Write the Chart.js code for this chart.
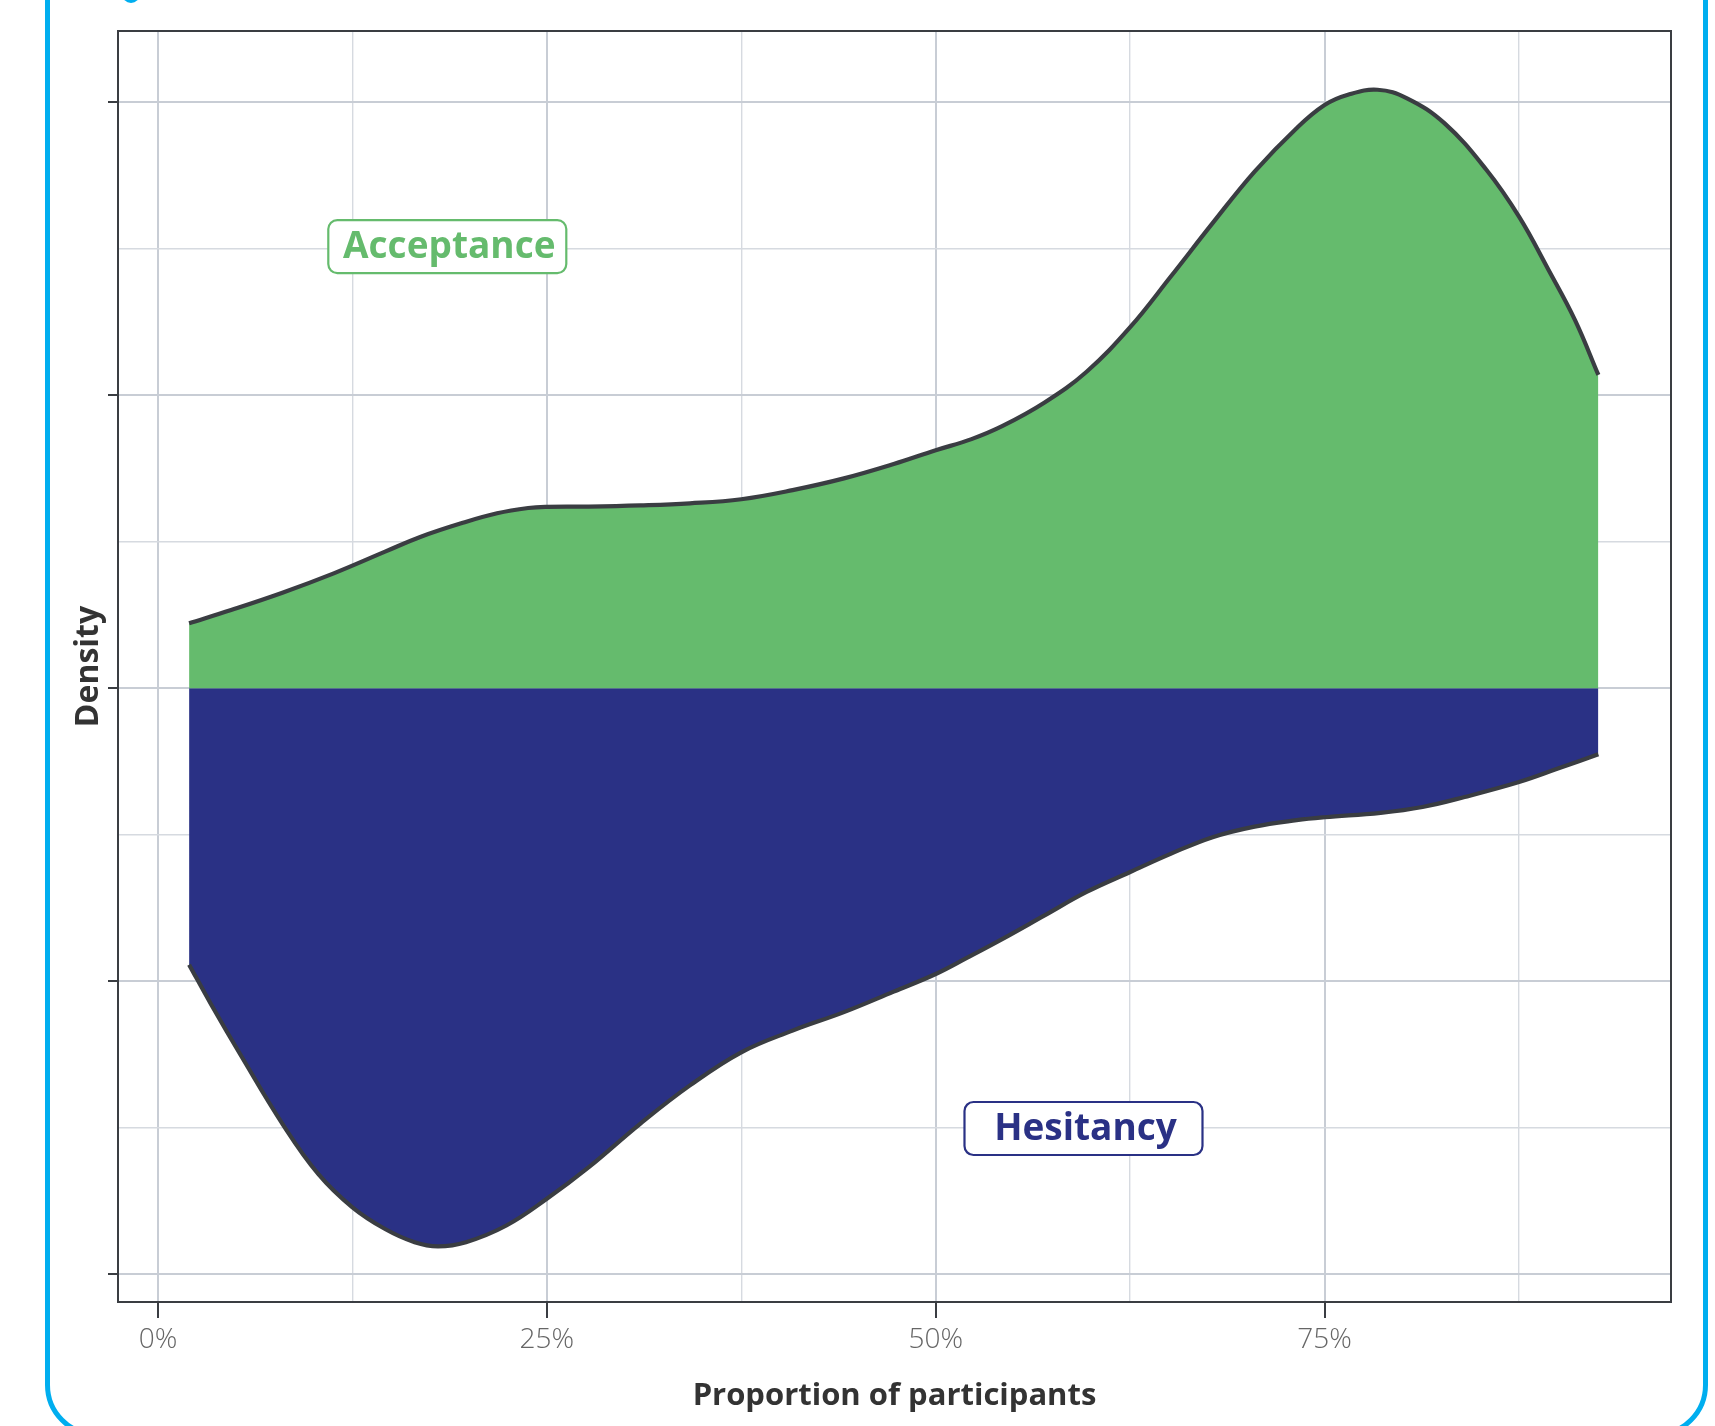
<!DOCTYPE html>
<html>
<head>
<meta charset="utf-8">
<script src="https://cdn.jsdelivr.net/npm/chart.js@4.4.1/dist/chart.umd.min.js"></script>
<style>
  html, body { margin: 0; padding: 0; background: #fff; overflow: hidden; }
  #wrap { position: relative; width: 1715px; height: 1426px; overflow: hidden; }
  #frame {
    position: absolute; left: 45px; top: -100px; width: 1663px; height: 1537px;
    box-sizing: border-box; border: 5px solid #00aeef; border-radius: 52px;
  }
  #dot {
    position: absolute; left: 122px; top: -15px; width: 18px; height: 18px;
    border-radius: 50%; background: #00aeef;
  }
  canvas { position: absolute; left: 0; top: 0; }
</style>
</head>
<body>
<div id="wrap">
  <div id="frame"></div>
  <div id="dot"></div>
  <canvas id="chart" width="1715" height="1426"></canvas>
</div>
<script>
// values (x = proportion, y = density; hesitancy mirrored below 0)
const accX = [0.020, 0.047, 0.080, 0.113, 0.146, 0.169, 0.195, 0.218, 0.238, 0.250, 0.277, 0.310, 0.342, 0.375, 0.408, 0.441, 0.473, 0.500, 0.523, 0.543, 0.570, 0.597, 0.625, 0.651, 0.678, 0.705, 0.732, 0.750, 0.765, 0.784, 0.803, 0.827, 0.854, 0.875, 0.894, 0.911, 0.926];
const accY = [0.222, 0.267, 0.326, 0.392, 0.466, 0.517, 0.563, 0.597, 0.615, 0.619, 0.620, 0.624, 0.631, 0.645, 0.676, 0.716, 0.765, 0.812, 0.850, 0.895, 0.975, 1.080, 1.232, 1.404, 1.587, 1.763, 1.911, 1.990, 2.025, 2.042, 2.013, 1.928, 1.769, 1.609, 1.427, 1.256, 1.069];

const hesX = [0.020, 0.034, 0.054, 0.080, 0.103, 0.125, 0.146, 0.165, 0.180, 0.198, 0.224, 0.250, 0.277, 0.310, 0.342, 0.375, 0.408, 0.441, 0.473, 0.500, 0.520, 0.543, 0.570, 0.597, 0.625, 0.651, 0.678, 0.705, 0.732, 0.750, 0.786, 0.813, 0.840, 0.875, 0.900, 0.926];
const hesY = [-0.943, -1.077, -1.259, -1.486, -1.657, -1.771, -1.845, -1.890, -1.904, -1.890, -1.833, -1.742, -1.634, -1.486, -1.355, -1.242, -1.168, -1.105, -1.035, -0.975, -0.920, -0.855, -0.775, -0.695, -0.627, -0.565, -0.508, -0.472, -0.450, -0.440, -0.425, -0.405, -0.371, -0.320, -0.274, -0.225];

const seriesNames = ["Acceptance", "Hesitancy"];
const xTickLabels = ["0%", "25%", "50%", "75%"];

// where the two ggplot-style labels sit, in data units
const labelAnchors = [
  { text: "Acceptance", x: 0.186, y: 1.507, color: "#65bb6d" },
  { text: "Hesitancy", x: 0.595, y: -1.502, color: "#2a3185" }
];

const GREEN = "#65bb6d";
const NAVY = "#2a3185";
const INK = "#3a3d42";

const isMajorX = v => Math.abs(v * 4 - Math.round(v * 4)) < 1e-6;
const isMajorY = v => Math.abs(v - Math.round(v)) < 1e-6;

const toPoints = (xs, ys) => xs.map((x, i) => ({ x: x, y: ys[i] }));

// panel border + text labels
const panelPlugin = {
  id: "panel",
  afterDatasetsDraw(chart) {
    const { ctx, chartArea: a, scales } = chart;
    ctx.save();
    ctx.font = "bold 37px 'Open Sans'";
    ctx.textAlign = "center";
    ctx.textBaseline = "middle";
    labelAnchors.forEach(l => {
      const cx = scales.x.getPixelForValue(l.x);
      const cy = scales.y.getPixelForValue(l.y);
      const w = 238;
      const h = 53;
      ctx.beginPath();
      ctx.roundRect(cx - w / 2, cy - h / 2, w, h, 9);
      ctx.fillStyle = "#fff";
      ctx.fill();
      ctx.lineWidth = 2.2;
      ctx.strokeStyle = l.color;
      ctx.stroke();
      ctx.fillStyle = l.color;
      ctx.fillText(l.text, cx + 2, cy + 1);
    });
    ctx.lineWidth = 2;
    ctx.strokeStyle = INK;
    ctx.strokeRect(a.left, a.top, a.right - a.left, a.bottom - a.top);
    ctx.restore();
  }
};

new Chart(document.getElementById("chart"), {
  type: "line",
  data: {
    datasets: [
      {
        label: seriesNames[0],
        data: toPoints(accX, accY),
        fill: "origin",
        backgroundColor: GREEN,
        borderColor: INK,
        borderWidth: 4.2,
        pointRadius: 0,
        tension: 0.4
      },
      {
        label: seriesNames[1],
        data: toPoints(hesX, hesY),
        fill: "origin",
        backgroundColor: NAVY,
        borderColor: INK,
        borderWidth: 4.2,
        pointRadius: 0,
        tension: 0.4
      }
    ]
  },
  options: {
    responsive: false,
    animation: false,
    devicePixelRatio: 1,
    layout: { padding: { top: 31, right: 44, left: 0, bottom: 0 } },
    plugins: { legend: { display: false }, tooltip: { enabled: false } },
    scales: {
      x: {
        type: "linear",
        min: -0.0257,
        max: 0.9727,
        afterFit: s => { s.height = 124; },
        border: { display: false },
        grid: {
          color: c => isMajorX(c.tick.value) ? "#c8cdd5" : "#d6dae0",
          lineWidth: c => isMajorX(c.tick.value) ? 2 : 1.4,
          tickColor: c => isMajorX(c.tick.value) ? INK : "rgba(0,0,0,0)",
          tickWidth: 2,
          tickLength: 16
        },
        ticks: {
          stepSize: 0.125,
          includeBounds: false,
          autoSkip: false,
          maxRotation: 0,
          padding: 5,
          color: "#666",
          font: { family: "'Open Sans'", size: 28, weight: 300 },
          callback: v => isMajorX(v) ? xTickLabels[Math.round(v * 4)] : ""
        },
        title: {
          display: true,
          text: "Proportion of participants",
          color: "#333",
          font: { family: "'Open Sans'", size: 31, weight: 700 },
          padding: { top: 0, bottom: 11 }
        }
      },
      y: {
        type: "linear",
        min: -2.094,
        max: 2.2425,
        afterFit: s => { s.width = 118; },
        border: { display: false },
        grid: {
          color: c => isMajorY(c.tick.value) ? "#c8cdd5" : "#d6dae0",
          lineWidth: c => isMajorY(c.tick.value) ? 2 : 1.6,
          tickColor: c => isMajorY(c.tick.value) ? INK : "rgba(0,0,0,0)",
          tickWidth: 2,
          tickLength: 10
        },
        ticks: { stepSize: 0.5, includeBounds: false, display: false },
        title: {
          display: true,
          text: "Density",
          color: "#333",
          font: { family: "'Open Sans'", size: 32, weight: 700 },
          padding: { top: 70, bottom: 0 }
        }
      }
    }
  },
  plugins: [panelPlugin]
});
</script>
</body>
</html>
